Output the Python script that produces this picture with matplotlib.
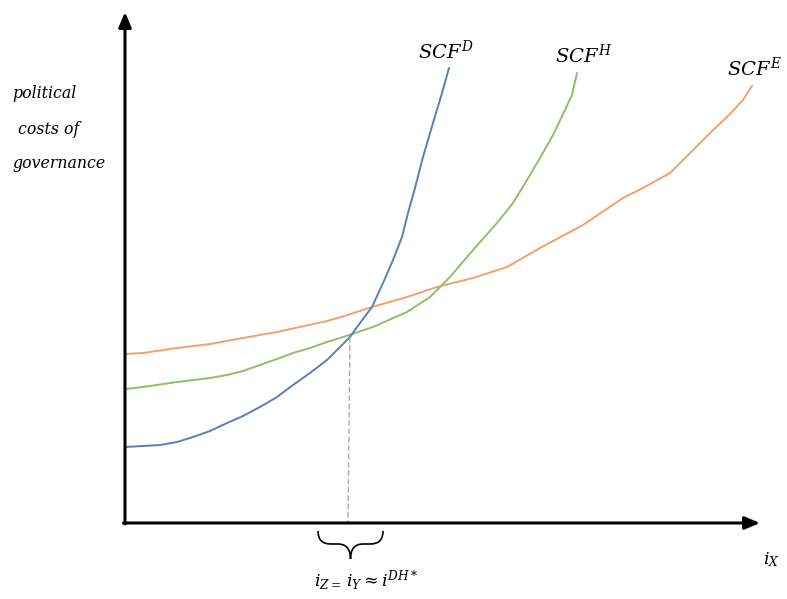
import matplotlib
matplotlib.use("Agg")
import matplotlib.pyplot as plt
from matplotlib.path import Path
from matplotlib.patches import PathPatch

plt.rcParams['mathtext.fontset'] = 'dejavuserif'
plt.rcParams['font.family'] = ['DejaVu Serif']

# ---- data (interest level on x, political costs on y) ----
d_x = [0, 0.36, 0.70, 1.04, 1.36, 1.70, 2.04, 2.36, 2.70, 3.04, 3.36, 3.70, 4.04,
       4.24, 4.50, 4.70, 4.94, 5.16, 5.36, 5.54, 5.66, 5.80, 5.96, 6.16, 6.34, 6.48]
d_y = [1.52, 1.54, 1.56, 1.62, 1.72, 1.84, 2.00, 2.14, 2.32, 2.52, 2.76, 3.00, 3.26,
       3.46, 3.72, 4.00, 4.32, 4.80, 5.26, 5.72, 6.20, 6.70, 7.32, 8.00, 8.60, 9.10]

h_x = [0, 0.36, 1.04, 1.70, 2.04, 2.36, 2.70, 3.04, 3.36, 3.70, 4.04, 4.30, 4.96,
       5.64, 6.10, 6.50, 6.96, 7.44, 7.76, 8.04, 8.30, 8.56, 8.80, 8.94, 9.04]
h_y = [2.68, 2.72, 2.82, 2.90, 2.96, 3.04, 3.16, 3.28, 3.40, 3.50, 3.62, 3.70, 3.92,
       4.22, 4.52, 4.92, 5.46, 6.00, 6.40, 6.86, 7.30, 7.76, 8.26, 8.56, 9.00]

e_x = [0, 0.36, 1.04, 1.70, 2.36, 3.04, 3.36, 4.04, 4.36, 4.94, 5.64, 6.24, 6.96,
       7.64, 8.30, 9.16, 9.96, 10.36, 10.90, 11.36, 11.70, 12.04, 12.36, 12.54]
e_y = [3.38, 3.40, 3.50, 3.58, 3.70, 3.82, 3.89, 4.04, 4.13, 4.32, 4.52, 4.72, 4.90,
       5.12, 5.50, 5.96, 6.50, 6.70, 7.00, 7.46, 7.80, 8.12, 8.46, 8.74]

curve_labels = [r'$SCF^{D}$', r'$SCF^{H}$', r'$SCF^{E}$']
ylabel_lines = ['political', 'costs of', 'governance']
cross_x = 4.5
cross_y = 3.72
axis_x_max = 12.7
axis_y_max = 10.22

fig = plt.figure(figsize=(7.87, 5.99), dpi=100)
ax = fig.add_axes([0, 0, 1, 1])
ax.set_xlim(-2.5, 13.24)
ax.set_ylim(-1.52, 10.46)
ax.axis('off')

# axes with arrows
arrow_style = '-|>,head_length=0.9,head_width=0.38'
ax.annotate('', xy=(0, axis_y_max), xytext=(0, -0.02),
            arrowprops=dict(arrowstyle=arrow_style, color='black', lw=2.2,
                            shrinkA=0, shrinkB=0))
ax.annotate('', xy=(axis_x_max, 0), xytext=(-0.03, 0),
            arrowprops=dict(arrowstyle=arrow_style, color='black', lw=2.2,
                            shrinkA=0, shrinkB=0))

# curves
ax.plot(e_x, e_y, color='#F4A06A', lw=1.4, solid_capstyle='round',
        solid_joinstyle='round')
ax.plot(h_x, h_y, color='#8CC068', lw=1.4, solid_capstyle='round',
        solid_joinstyle='round')
ax.plot(d_x, d_y, color='#5B7DB8', lw=1.4, solid_capstyle='round',
        solid_joinstyle='round')

# dashed drop line
ax.plot([cross_x, cross_x - 0.04], [cross_y, 0], color='#AAAAAA', lw=1.0,
        linestyle=(0, (4, 2)))

# curve labels
ax.text(d_x[-1] - 0.06, d_y[-1] + 0.34, curve_labels[0], fontsize=14,
        ha='center', va='center')
ax.text(h_x[-1] + 0.14, h_y[-1] + 0.36, curve_labels[1], fontsize=14,
        ha='center', va='center')
ax.text(e_x[-1] + 0.04, e_y[-1] + 0.36, curve_labels[2], fontsize=14,
        ha='center', va='center')

# y-axis label
for txt, xx, yy in zip(ylabel_lines, [-2.26, -2.14, -2.26], [8.6, 7.86, 7.2]):
    ax.text(xx, yy, txt, fontsize=11.3, style='italic', ha='left', va='center')

# brace under the crossing point
bl = cross_x - 0.64
br = cross_x + 0.66
bm = (bl + br) / 2
top = -0.16
mid = -0.42
tip = -0.72
verts = [(bl, top), (bl, mid), (bl + 0.25, mid), (bm - 0.25, mid),
         (bm, mid), (bm, tip), (bm, tip), (bm, mid), (bm + 0.25, mid),
         (br - 0.25, mid), (br, mid), (br, top)]
codes = [Path.MOVETO, Path.CURVE3, Path.CURVE3, Path.LINETO,
         Path.CURVE3, Path.CURVE3, Path.MOVETO, Path.CURVE3, Path.CURVE3,
         Path.LINETO, Path.CURVE3, Path.CURVE3]
ax.add_patch(PathPatch(Path(verts, codes), fill=False, lw=1.2, color='black'))

ax.text(cross_x - 0.72, -1.14, r'$i_{Z=}\,i_{Y}\approx i^{DH*}$', fontsize=12.5,
        ha='left', va='center')
ax.text(12.92, -0.74, r'$i_{X}$', fontsize=12.5, ha='center', va='center')

fig.savefig('out.png', dpi=100)
